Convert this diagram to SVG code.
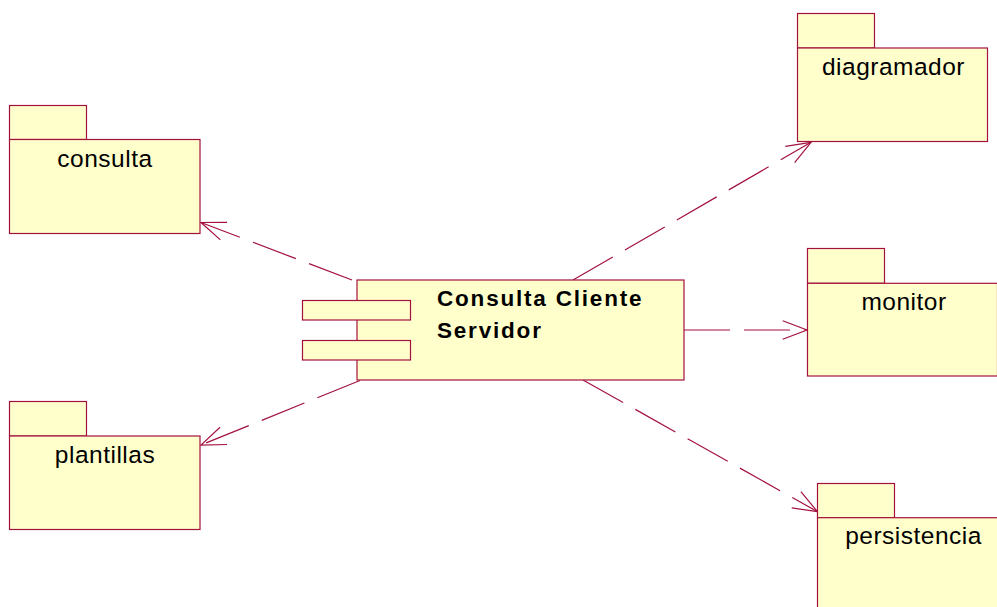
<svg xmlns="http://www.w3.org/2000/svg" width="997" height="607" viewBox="0 0 997 607">
<style>
.box{fill:#FFFFCC;stroke:#A3123F;stroke-width:1.2}
.lbl{font-family:"Liberation Sans",Arial,sans-serif;font-size:24.5px;letter-spacing:0.5px;fill:#000;text-anchor:middle}
.comp{font-family:"Liberation Sans",Arial,sans-serif;font-size:22.5px;font-weight:bold;letter-spacing:1.8px;fill:#000}
.dep{fill:none;stroke:#A3123F;stroke-width:1.2;stroke-dasharray:46 14}
</style>
<defs>
<marker id="open" markerUnits="userSpaceOnUse" markerWidth="40" markerHeight="40" viewBox="-30 -20 40 40" refX="0" refY="0" orient="auto" overflow="visible">
<path d="M -24.3 -9.3 L 0 0 L -24.3 9.3" fill="none" stroke="#A3123F" stroke-width="1.2"/>
</marker>
</defs>
<g id="connectors">
<line class="dep" x1="352" y1="280" x2="201" y2="222.5" marker-end="url(#open)"/>
<line class="dep" x1="360" y1="380.5" x2="201" y2="445" marker-end="url(#open)"/>
<line class="dep" x1="573" y1="280" x2="811" y2="142.3" marker-end="url(#open)"/>
<line class="dep" x1="684" y1="330" x2="807" y2="330" marker-end="url(#open)"/>
<line class="dep" x1="583" y1="380" x2="817.5" y2="511.7" marker-end="url(#open)"/>
</g>
<g id="consulta">
<rect class="box" x="9.5" y="105.5" width="77" height="34"/>
<rect class="box" x="9.5" y="139.5" width="190.5" height="94"/>
<text class="lbl" x="105" y="167">consulta</text>
</g>
<g id="plantillas">
<rect class="box" x="9.5" y="401.5" width="77" height="34.5"/>
<rect class="box" x="9.5" y="436" width="190.5" height="93.5"/>
<text class="lbl" x="105" y="463">plantillas</text>
</g>
<g id="diagramador">
<rect class="box" x="797.5" y="13.5" width="77" height="34.5"/>
<rect class="box" x="797.5" y="48" width="190" height="93.5"/>
<text class="lbl" x="893.5" y="75">diagramador</text>
</g>
<g id="monitor">
<rect class="box" x="807.5" y="248.5" width="77" height="34.8"/>
<rect class="box" x="807.5" y="283.3" width="190" height="92.7"/>
<text class="lbl" x="904" y="310">monitor</text>
</g>
<g id="persistencia">
<rect class="box" x="817.5" y="483.5" width="77" height="34.2"/>
<rect class="box" x="817.5" y="517.7" width="190" height="100"/>
<text class="lbl" x="913.5" y="544">persistencia</text>
</g>
<g id="consulta-cliente-servidor">
<rect class="box" x="357" y="280" width="327" height="100"/>
<rect class="box" x="302.5" y="300.5" width="108" height="19.5"/>
<rect class="box" x="302.5" y="340.5" width="108" height="19.5"/>
<text class="comp" x="437" y="306">Consulta Cliente</text>
<text class="comp" x="437" y="338">Servidor</text>
</g>
</svg>
